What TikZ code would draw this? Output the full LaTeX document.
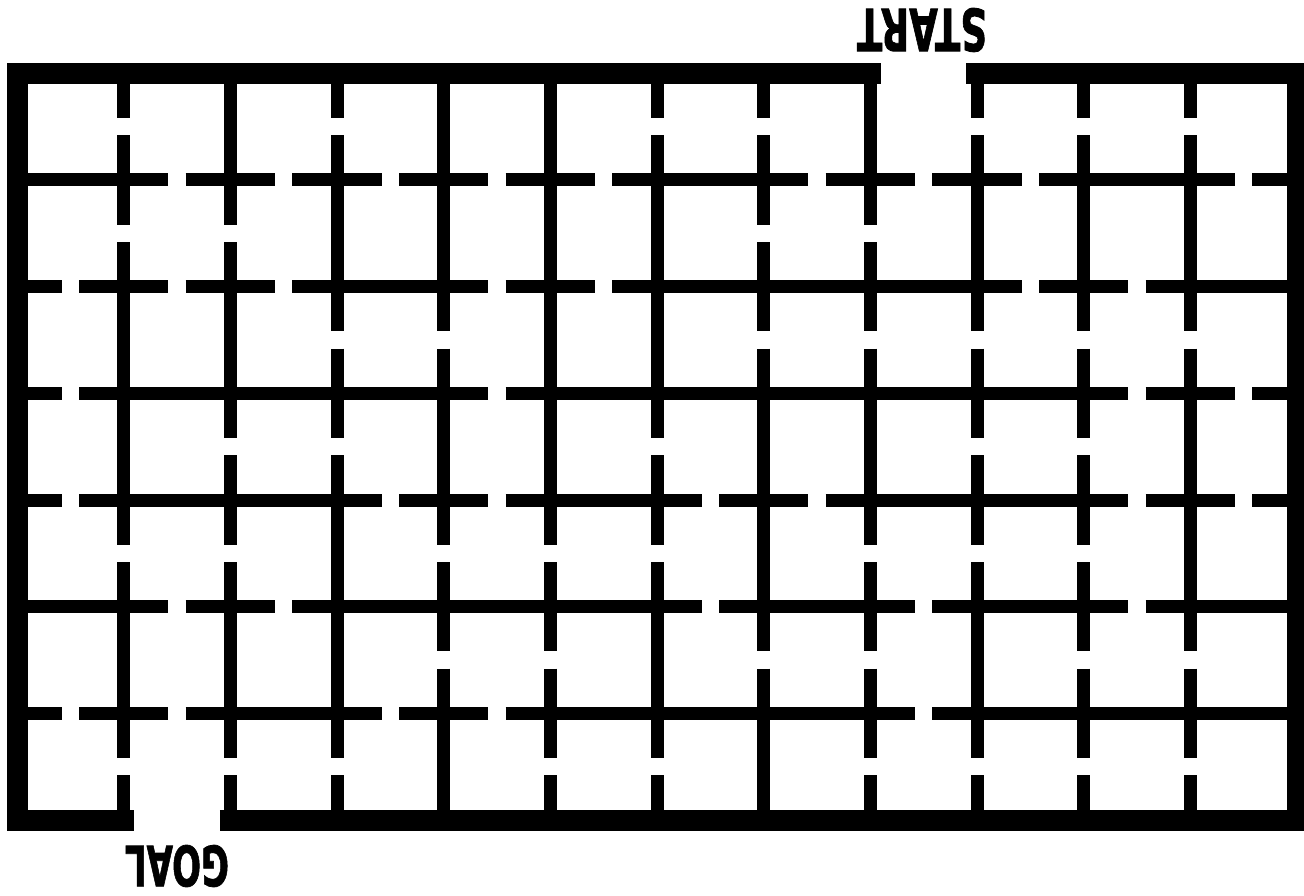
\documentclass[tikz,border=0pt]{standalone}
\usepackage{fontspec}
\setmainfont{DejaVu Sans}
\newfontfamily\heavyfont[FakeBold=1.5]{DejaVu Sans Bold}
\begin{document}
\begin{tikzpicture}[x=1pt,y=-1pt,
  wall/.style={line width=13pt,line cap=butt,black},
  border/.style={line width=21pt,line cap=butt,line join=miter,black},
  lbl/.style={inner sep=0pt,outer sep=0pt,rotate=180}]
\useasboundingbox (0,0) rectangle (1304,896);
\def\cs{106.667}
% vertical walls: column index / states of rows 0..6 (1 = solid, 0 = with door)
\foreach \i/\st in {1/{0,0,1,1,0,1,0},2/{1,0,1,0,0,1,0},3/{0,1,0,0,1,1,0},4/{1,1,0,1,0,0,1},5/{1,1,1,1,0,0,0},6/{0,1,1,0,0,1,0},7/{0,0,0,1,1,0,1},8/{1,0,0,1,0,0,0},9/{0,1,0,0,0,1,0},10/{0,1,0,0,0,0,0},11/{0,1,0,1,1,0,0}}{
  \foreach \s [count=\j from 0] in \st {
    \pgfmathsetmacro\xx{17+\cs*\i}
    \pgfmathsetmacro\ya{73.333+\cs*\j}
    \pgfmathsetmacro\yb{\ya+\cs}
    \pgfmathsetmacro\yc{\ya+\cs/2-8.667}
    \pgfmathsetmacro\yd{\ya+\cs/2+8.667}
    \ifnum\s=1
      \draw[wall] (\xx,\ya) -- (\xx,\yb);
    \else
      \draw[wall] (\xx,\ya) -- (\xx,\yc) (\xx,\yd) -- (\xx,\yb);
    \fi
  }
}
% horizontal walls: row index / states of columns 0..11
\foreach \j/\st in {1/{1,0,0,0,0,0,1,0,0,0,1,0},2/{0,0,0,1,0,0,1,1,1,0,0,1},3/{0,1,1,1,0,1,1,1,1,1,0,0},4/{0,1,1,0,0,1,0,0,1,1,0,0},5/{1,0,0,1,1,1,0,1,0,1,0,1},6/{0,0,1,0,0,1,1,1,0,1,1,1}}{
  \foreach \s [count=\i from 0] in \st {
    \pgfmathsetmacro\yy{73.333+\cs*\j}
    \pgfmathsetmacro\xa{17+\cs*\i}
    \pgfmathsetmacro\xb{\xa+\cs}
    \pgfmathsetmacro\xc{\xa+\cs/2-8.667}
    \pgfmathsetmacro\xd{\xa+\cs/2+8.667}
    \ifnum\s=1
      \draw[wall] (\xa,\yy) -- (\xb,\yy);
    \else
      \draw[wall] (\xa,\yy) -- (\xc,\yy) (\xd,\yy) -- (\xb,\yy);
    \fi
  }
}
% outer border with START and GOAL openings
\draw[border] (880.8,73.333) -- (17,73.333) -- (17,820) -- (134.2,820);
\draw[border] (219.8,820) -- (1297,820) -- (1297,73.333) -- (966.2,73.333);
% labels (upside down)
\node[lbl] (start) at (922,30) {\resizebox*{130pt}{44pt}{\heavyfont START}};
\node[lbl] (goal) at (177,866) {\resizebox*{104pt}{42pt}{\heavyfont GOAL}};
\end{tikzpicture}
\end{document}
